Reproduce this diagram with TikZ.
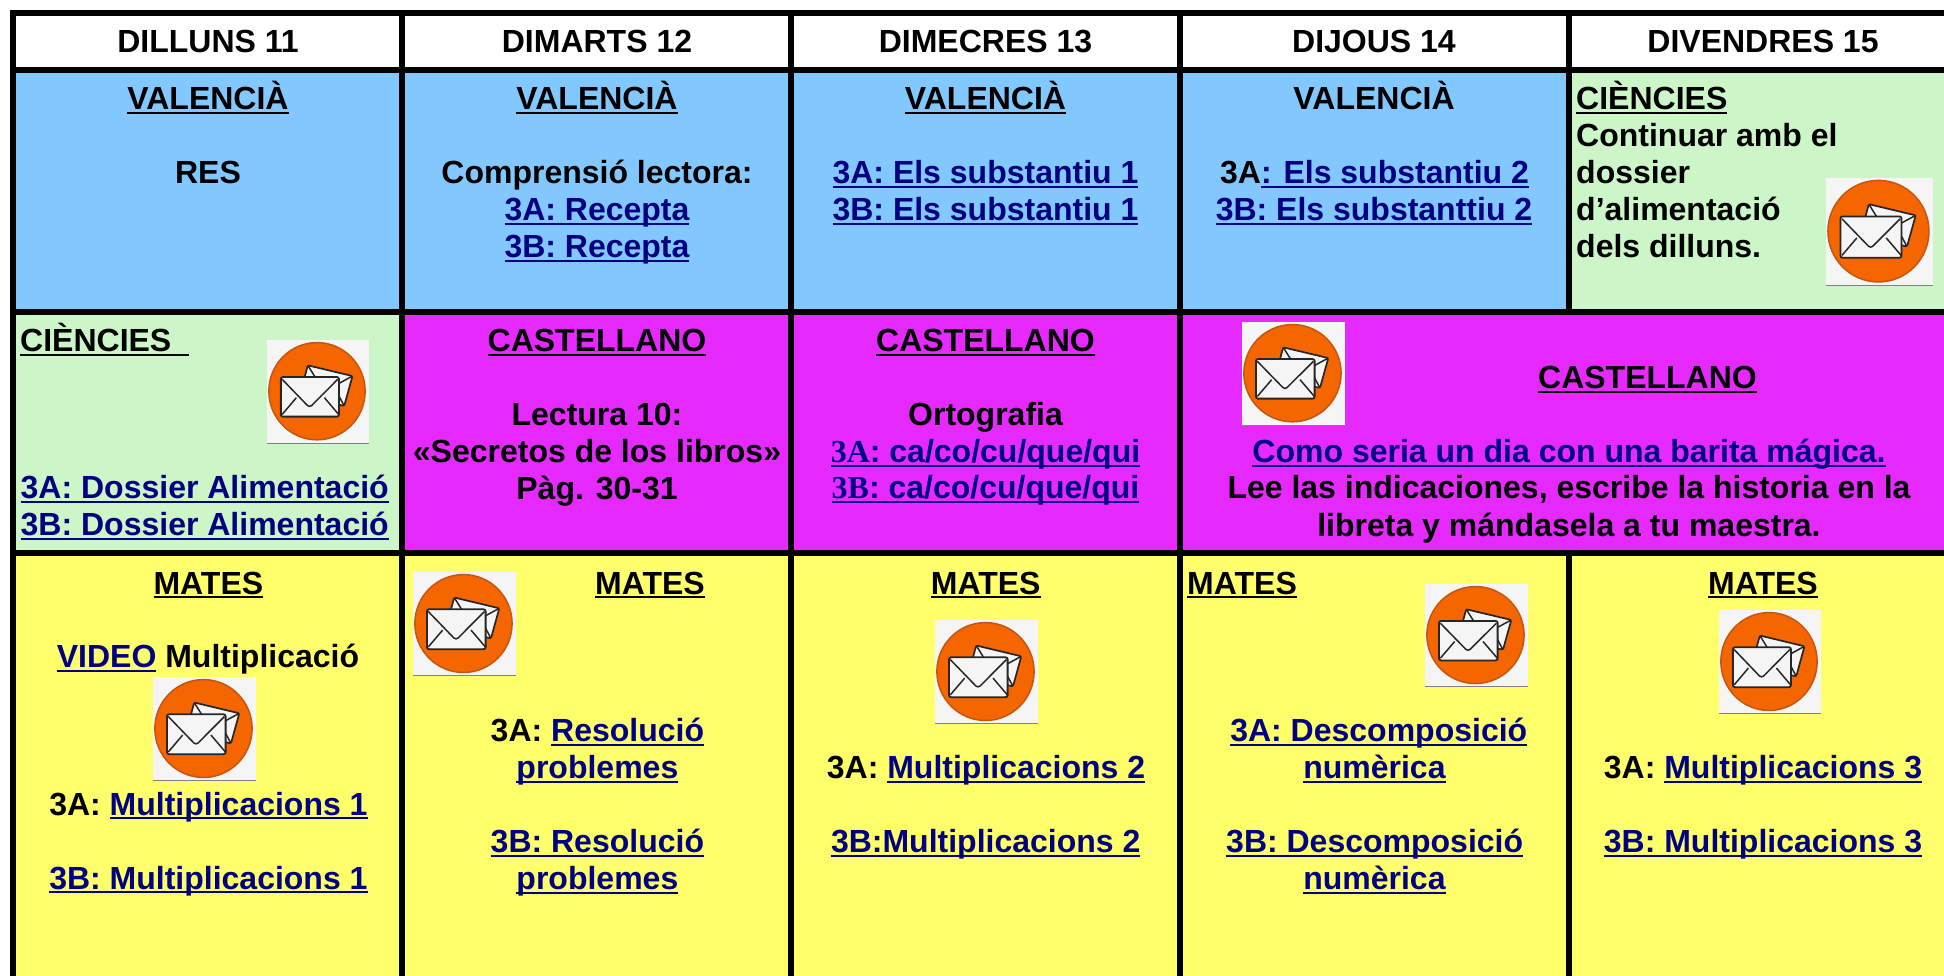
\documentclass[tikz,border=0pt]{standalone}
\usepackage{fontspec}
\setmainfont{Liberation Sans}
\newfontfamily\timesb{Liberation Serif}
\definecolor{cellblue}{HTML}{82C8FF}
\definecolor{cellgreen}{HTML}{CCF5C8}
\definecolor{cellmag}{HTML}{E529FF}
\definecolor{cellyel}{HTML}{FFFF6B}
\definecolor{linkb}{HTML}{000080}
\definecolor{iconbg}{HTML}{F5F5F5}
\definecolor{iconor}{HTML}{F56600}
\definecolor{iconedge}{HTML}{C4560F}
\definecolor{iconink}{HTML}{262626}
\newcommand\ulin[1]{{\setbox0\hbox{#1}\rlap{\vrule width\wd0 height-2.3pt depth4.3pt}\box0}}
\newcommand\lnk[1]{{\color{linkb}\ulin{#1}}}
\newcommand\mailicon[4]{%
\begin{scope}[shift={(#1,#2)},x=#3pt,y=-#4pt]
\fill[iconbg] (0,0) rectangle (1,1);
\draw[gray,line width=0.8pt] (0,1) -- (1,1);
\draw[fill=iconor,draw=iconedge,line width=1.5pt] (.49,.497) ellipse [x radius=.472,y radius=.472];
\draw[iconink,fill=iconbg,line width=1.7pt,rounded corners=1.5pt,line join=round] (.40,.246) -- (.838,.35) -- (.757,.64) -- (.32,.54) -- cycle;
\draw[iconink,line width=1.5pt] (.40,.246) -- (.56,.50) -- (.838,.35) (.757,.64) -- (.66,.46);
\draw[iconink,fill=iconbg,line width=1.8pt,rounded corners=2pt] (.136,.36) rectangle (.705,.744);
\draw[iconink,line width=1.5pt,rounded corners=3pt] (.149,.382) -- (.417,.657) -- (.693,.382);
\draw[iconink,line width=1.5pt] (.149,.722) -- (.288,.56) (.702,.722) -- (.563,.56);
\end{scope}}
\tikzset{
  x=1pt,y=-1pt,
  txt/.style={anchor=base,inner sep=0pt,yshift=-0.7pt,font=\fontsize{32}{37}\selectfont\bfseries},
  txtl/.style={txt,anchor=base west},
  gridline/.style={black,line width=6pt},
}
\begin{document}
\begin{tikzpicture}
\useasboundingbox (0,0) rectangle (1944,976);
\fill[white] (0,0) rectangle (1944,976);
% cell fills
\fill[white] (13,13) rectangle (1944,70);
\fill[cellblue] (13,70) rectangle (1568,312);
\fill[cellgreen] (1568,70) rectangle (1944,312);
\fill[cellgreen] (13,312) rectangle (402,553);
\fill[cellmag] (402,312) rectangle (1944,553);
\fill[cellyel] (13,553) rectangle (1944,976);
% grid
\coordinate (tl) at (13.3,12.7);
\coordinate (tr) at (1944,12.7);
\coordinate (h1l) at (13.3,70.3);
\coordinate (h1r) at (1944,70.3);
\coordinate (h2l) at (13.3,311.7);
\coordinate (h2r) at (1944,311.7);
\coordinate (h3l) at (13.3,553.3);
\coordinate (h3r) at (1944,553.3);
\draw[gridline] (10.3,12.7) -- (tr);
\draw[gridline] (h1l) -- (h1r);
\draw[gridline] (h2l) -- (h2r);
\draw[gridline] (h3l) -- (h3r);
\draw[gridline] (tl) -- (13.3,976);
\draw[gridline] (402.3,10) -- (402.3,976);
\draw[gridline] (791,10) -- (791,976);
\draw[gridline] (1179.7,10) -- (1179.7,976);
\draw[gridline] (1568.6,10) -- (1568.6,311.7);
\draw[gridline] (1568.6,553.3) -- (1568.6,976);
% icons
\mailicon{1826}{177.7}{107}{107.6}
\mailicon{267}{340}{102}{103}
\mailicon{1242}{322}{103}{103}
\mailicon{153}{677}{103}{103.7}
\mailicon{413}{572}{103}{103.7}
\mailicon{935}{620}{103}{103.7}
\mailicon{1425}{584}{103}{102.7}
\mailicon{1719}{610}{102}{103.7}
% headers
\node[txt] (h1) at (208,51.7) {DILLUNS 11};
\node[txt] (h2) at (597,51.7) {DIMARTS 12};
\node[txt] (h3) at (985.5,51.7) {DIMECRES 13};
\node[txt] (h4) at (1374,51.7) {DIJOUS 14};
\node[txt] (h5) at (1763,51.7) {DIVENDRES 15};
% row 1
\node[txt] (a1t) at (208,108.7) {\ulin{VALENCIÀ}};
\node[txt] (a1a) at (208,182.7) {RES};
\node[txt] (a2t) at (597,108.7) {\ulin{VALENCIÀ}};
\node[txt] (a2a) at (597,182.7) {Comprensió lectora:};
\node[txt] (a2b) at (597,219.7) {\lnk{3A: Recepta}};
\node[txt] (a2c) at (597,256.7) {\lnk{3B: Recepta}};
\node[txt] (a3t) at (985.5,108.7) {\ulin{VALENCIÀ}};
\node[txt] (a3a) at (985.5,182.7) {\lnk{3A: Els substantiu 1}};
\node[txt] (a3b) at (985.5,219.7) {\lnk{3B: Els substantiu 1}};
\node[txt] (a4t) at (1374,108.7) {VALENCIÀ};
\node[txt] (a4a) at (1374.5,182.7) {3A\lnk{: Els substantiu 2}};
\node[txt] (a4b) at (1374,219.7) {\lnk{3B: Els substanttiu 2}};
\node[txtl] (a5t) at (1576,108.7) {\ulin{CIÈNCIES}};
\node[txtl] (a5a) at (1576,145.7) {Continuar amb el};
\node[txtl] (a5b) at (1576,182.7) {dossier};
\node[txtl] (a5c) at (1576,219.7) {d’alimentació};
\node[txtl] (a5d) at (1576,256.7) {dels dilluns.};
% row 2
\node[txtl] (b1t) at (20,350.7) {\ulin{CIÈNCIES\ \ }};
\node[txtl] (b1a) at (20.5,498) {\lnk{3A: Dossier Alimentació}};
\node[txtl] (b1b) at (20.5,535) {\lnk{3B: Dossier Alimentació}};
\node[txt] (b2t) at (597,350.7) {\ulin{CASTELLANO}};
\node[txt] (b2a) at (597,425) {Lectura 10:};
\node[txt] (b2b) at (597,462) {«Secretos de los libros»};
\node[txt] (b2c) at (597,499) {Pàg. 30-31};
\node[txt] (b3t) at (985.5,350.7) {\ulin{CASTELLANO}};
\node[txt] (b3a) at (985.5,424.5) {Ortografia};
\node[txt] (b3b) at (985.5,461.7) {\lnk{{\timesb\bfseries 3A}: ca/co/cu/que/qui}};
\node[txt] (b3c) at (985.5,498) {\lnk{{\timesb\bfseries 3B}: ca/co/cu/que/qui}};
\node[txt] (b4t) at (1647.5,388) {\ulin{CASTELLANO}};
\node[txt] (b4a) at (1569,462) {\lnk{Como seria un dia con una barita mágica.}};
\node[txt] (b4b) at (1569,498) {Lee las indicaciones, escribe la historia en la};
\node[txt] (b4c) at (1569,535.5) {libreta y mándasela a tu maestra.};
% row 3
\node[txt] (c1t) at (208.4,593.3) {\ulin{MATES}};
\node[txt] (c1a) at (208,666.7) {\lnk{VIDEO} Multiplicació};
\node[txt] (c1b) at (208.4,814.3) {3A: \lnk{Multiplicacions 1}};
\node[txt] (c1c) at (208.4,888.3) {\lnk{3B: Multiplicacions 1}};
\node[txt] (c2t) at (650,593.3) {\ulin{MATES}};
\node[txt] (c2a) at (597.4,740.7) {3A: \lnk{Resolució}};
\node[txt] (c2b) at (597.4,777.7) {\lnk{problemes}};
\node[txt] (c2c) at (597.4,851.7) {\lnk{3B: Resolució}};
\node[txt] (c2d) at (597.4,888.7) {\lnk{problemes}};
\node[txt] (c3t) at (985.7,593.3) {\ulin{MATES}};
\node[txt] (c3a) at (986,777.7) {3A: \lnk{Multiplicacions 2}};
\node[txt] (c3b) at (985.7,851.7) {\lnk{3B:Multiplicacions 2}};
\node[txtl] (c4t) at (1187,593.3) {\ulin{MATES}};
\node[txt] (c4a) at (1378.8,740.7) {\lnk{3A: Descomposició}};
\node[txt] (c4b) at (1374.4,777.7) {\lnk{numèrica}};
\node[txt] (c4c) at (1374.7,851.7) {\lnk{3B: Descomposició}};
\node[txt] (c4d) at (1374.4,888.7) {\lnk{numèrica}};
\node[txt] (c5t) at (1763,593.3) {\ulin{MATES}};
\node[txt] (c5a) at (1763,777.7) {3A: \lnk{Multiplicacions 3}};
\node[txt] (c5b) at (1763,851.7) {\lnk{3B: Multiplicacions 3}};
\end{tikzpicture}
\end{document}
